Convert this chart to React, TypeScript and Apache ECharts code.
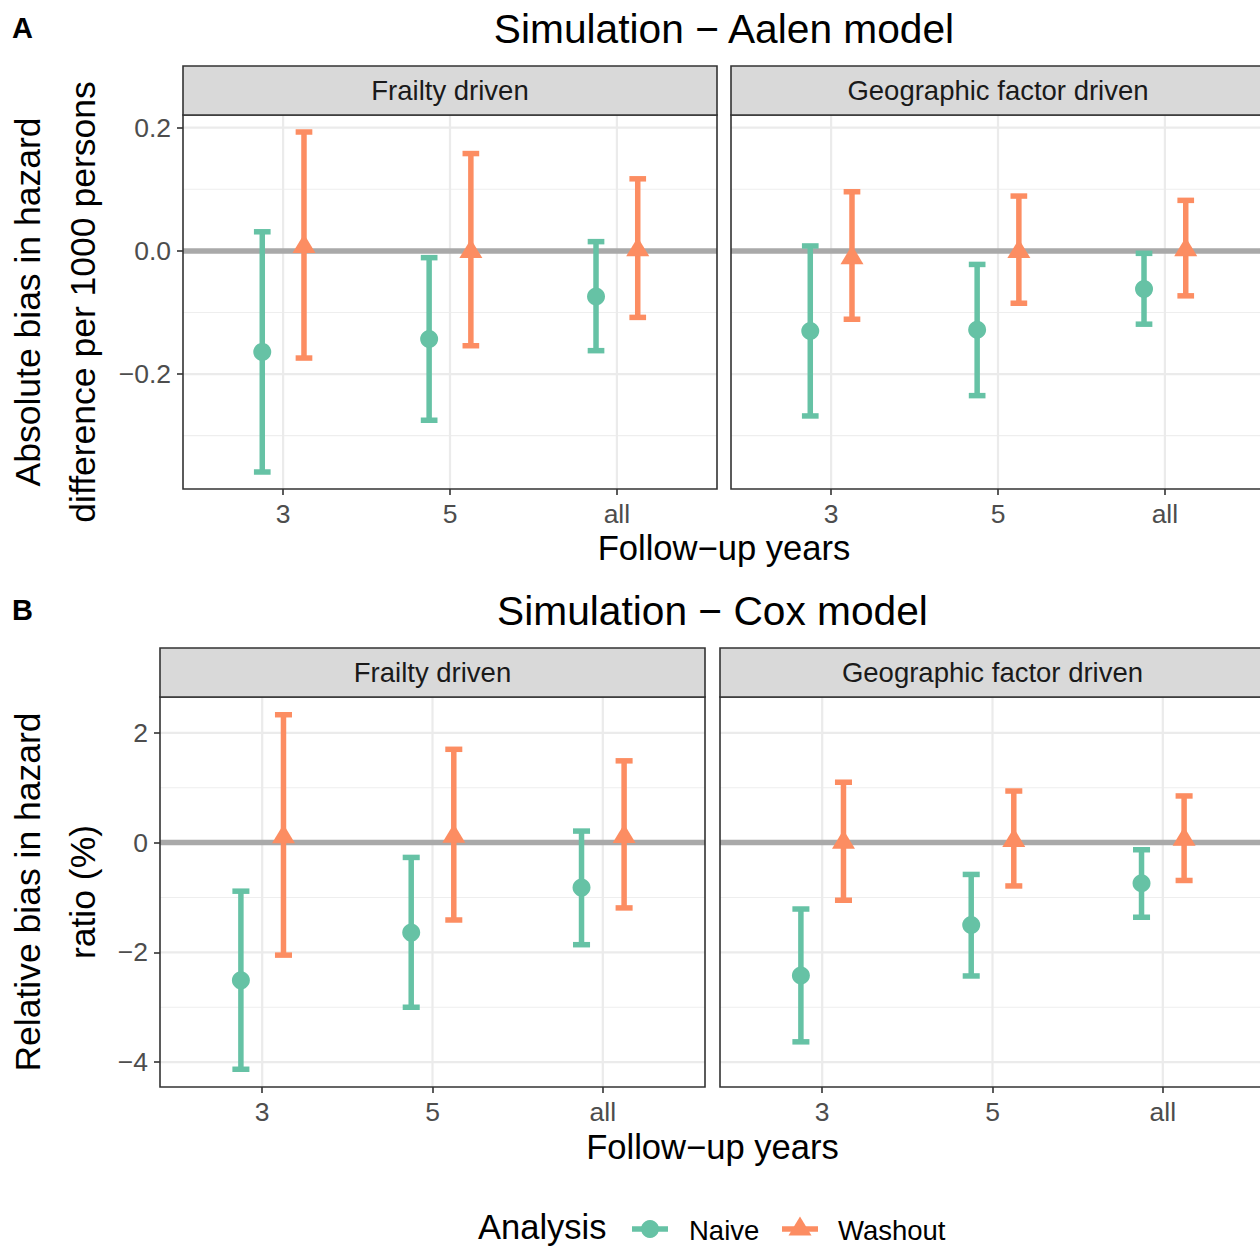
import React, { useEffect, useRef } from 'react';
import * as echarts from 'echarts';

// ---------- data ----------
const categories = ['3', '5', 'all'];
const facetNames = ['Frailty driven', 'Geographic factor driven'];
const analyses = ['Naive', 'Washout'];

// Panel A – Aalen model (absolute bias per 1000 persons)
const aFrailNaiveEst = [-0.164, -0.143, -0.074];
const aFrailNaiveLow = [-0.359, -0.275, -0.162];
const aFrailNaiveHigh = [0.031, -0.011, 0.015];
const aFrailWashEst = [0.007, -0.001, 0.002];
const aFrailWashLow = [-0.174, -0.154, -0.108];
const aFrailWashHigh = [0.193, 0.158, 0.117];

const aGeoNaiveEst = [-0.13, -0.128, -0.062];
const aGeoNaiveLow = [-0.268, -0.235, -0.119];
const aGeoNaiveHigh = [0.008, -0.022, -0.004];
const aGeoWashEst = [-0.011, -0.001, 0.002];
const aGeoWashLow = [-0.111, -0.085, -0.073];
const aGeoWashHigh = [0.096, 0.089, 0.082];

// Panel B – Cox model (relative bias, %)
const bFrailNaiveEst = [-2.51, -1.64, -0.82];
const bFrailNaiveLow = [-4.13, -3.0, -1.86];
const bFrailNaiveHigh = [-0.885, -0.27, 0.21];
const bFrailWashEst = [0.107, 0.115, 0.11];
const bFrailWashLow = [-2.05, -1.41, -1.19];
const bFrailWashHigh = [2.33, 1.7, 1.49];

const bGeoNaiveEst = [-2.42, -1.5, -0.74];
const bGeoNaiveLow = [-3.63, -2.43, -1.36];
const bGeoNaiveHigh = [-1.21, -0.58, -0.13];
const bGeoWashEst = [0.006, 0.04, 0.06];
const bGeoWashLow = [-1.05, -0.79, -0.69];
const bGeoWashHigh = [1.1, 0.94, 0.85];

const aYTicks = [-0.2, 0, 0.2];
const aYMinor = [-0.3, -0.1, 0.1];
const bYTicks = [-4, -2, 0, 2];
const bYMinor = [-3, -1, 1];

// ---------- styles ----------
const FONT = '"Liberation Sans", Arial, Helvetica, sans-serif';
const COLORS = ['#66C2A5', '#FC8D62'];
const DODGE = [-0.125, 0.125];
const CAP_W = 0.1;
const LW = 5.5;

const panels = [
  {
    letter: 'A',
    title: 'Simulation − Aalen model',
    yTitle: ['Absolute bias in hazard', 'difference per 1000 persons'],
    ticks: aYTicks,
    minor: aYMinor,
    digits: 1,
    facets: [
      [
        [aFrailNaiveEst, aFrailNaiveLow, aFrailNaiveHigh],
        [aFrailWashEst, aFrailWashLow, aFrailWashHigh],
      ],
      [
        [aGeoNaiveEst, aGeoNaiveLow, aGeoNaiveHigh],
        [aGeoWashEst, aGeoWashLow, aGeoWashHigh],
      ],
    ],
    layout: { top: 115, height: 374, stripH: 49, lefts: [183, 731], width: 534, titleY: 29, letterY: 28, xTitleY: 548 },
  },
  {
    letter: 'B',
    title: 'Simulation − Cox model',
    yTitle: ['Relative bias in hazard', 'ratio (%)'],
    ticks: bYTicks,
    minor: bYMinor,
    digits: 0,
    facets: [
      [
        [bFrailNaiveEst, bFrailNaiveLow, bFrailNaiveHigh],
        [bFrailWashEst, bFrailWashLow, bFrailWashHigh],
      ],
      [
        [bGeoNaiveEst, bGeoNaiveLow, bGeoNaiveHigh],
        [bGeoWashEst, bGeoWashLow, bGeoWashHigh],
      ],
    ],
    layout: { top: 697, height: 390, stripH: 49, lefts: [160, 720], width: 545, titleY: 611, letterY: 610, xTitleY: 1147 },
  },
];

function fmt(v: number, digits: number) {
  const s = Math.abs(v).toFixed(digits);
  return (v < 0 ? '\u2212' : '') + s;
}

function hLineSeries(gi: number, values: number[], widths: number[], color: string, z: number) {
  return {
    type: 'custom',
    xAxisIndex: gi,
    yAxisIndex: gi,
    z,
    silent: true,
    data: values.map((v, i) => [0, v, widths[i]]),
    encode: { x: 0, y: 1 },
    renderItem: (params: any, api: any) => {
      const cs = params.coordSys;
      const y = api.coord([0, api.value(1)])[1];
      return {
        type: 'line',
        shape: { x1: cs.x, y1: y, x2: cs.x + cs.width, y2: y },
        style: { stroke: color, lineWidth: api.value(2) },
      };
    },
  };
}

function vLineSeries(gi: number, color: string, width: number) {
  return {
    type: 'custom',
    xAxisIndex: gi,
    yAxisIndex: gi,
    z: 1,
    silent: true,
    data: categories.map((_, i) => [i, 0]),
    encode: { x: 0, y: 1 },
    renderItem: (params: any, api: any) => {
      const cs = params.coordSys;
      const x = api.coord([api.value(0), 0])[0];
      return {
        type: 'line',
        shape: { x1: x, y1: cs.y, x2: x, y2: cs.y + cs.height },
        style: { stroke: color, lineWidth: width },
      };
    },
  };
}

function errorSeries(gi: number, ai: number, low: number[], high: number[]) {
  const color = COLORS[ai];
  const offset = DODGE[ai];
  return {
    type: 'custom',
    name: analyses[ai] + ' CI',
    xAxisIndex: gi,
    yAxisIndex: gi,
    z: 3,
    silent: true,
    data: categories.map((_, i) => [i, low[i], high[i]]),
    encode: { x: 0, y: [1, 2] },
    renderItem: (params: any, api: any) => {
      const x = api.value(0) + offset;
      const p1 = api.coord([x, api.value(1)]);
      const p2 = api.coord([x, api.value(2)]);
      const half = api.size([CAP_W, 0])[0] / 2;
      const style = { stroke: color, lineWidth: LW, lineCap: 'butt', fill: null };
      return {
        type: 'group',
        children: [
          { type: 'line', shape: { x1: p1[0], y1: p1[1], x2: p2[0], y2: p2[1] }, style },
          { type: 'line', shape: { x1: p1[0] - half, y1: p1[1], x2: p1[0] + half, y2: p1[1] }, style },
          { type: 'line', shape: { x1: p2[0] - half, y1: p2[1], x2: p2[0] + half, y2: p2[1] }, style },
        ],
      };
    },
  };
}

function pointSeries(gi: number, ai: number, est: number[]) {
  const offset = DODGE[ai];
  const isTri = ai === 1;
  return {
    type: 'scatter',
    name: analyses[ai],
    xAxisIndex: gi,
    yAxisIndex: gi,
    z: 4,
    silent: true,
    symbol: isTri ? 'triangle' : 'circle',
    symbolSize: isTri ? [23, 19] : 18,
    symbolOffset: isTri ? [0, -3] : [0, 0],
    itemStyle: { color: COLORS[ai], opacity: 1 },
    data: est.map((v, i) => [i + offset, v]),
  };
}

function buildOption() {
  const grid: any[] = [];
  const xAxis: any[] = [];
  const yAxis: any[] = [];
  const series: any[] = [];
  const graphic: any[] = [];
  let gi = 0;

  panels.forEach((p) => {
    const L = p.layout;
    // shared y extent with 5% expansion (ggplot default)
    const all: number[] = [];
    p.facets.forEach((f) => f.forEach((a) => { all.push(...a[1], ...a[2]); }));
    const dMin = Math.min(...all);
    const dMax = Math.max(...all);
    const pad = (dMax - dMin) * 0.05;
    const yMin = dMin - pad;
    const yMax = dMax + pad;

    p.facets.forEach((facet, fi) => {
      const left = L.lefts[fi];
      grid.push({
        left,
        top: L.top,
        width: L.width,
        height: L.height,
        show: true,
        borderColor: '#333333',
        borderWidth: 1.6,
        backgroundColor: 'transparent',
        containLabel: false,
        outerBoundsMode: 'none',
        z: 10,
      });
      xAxis.push({
        type: 'value',
        gridIndex: gi,
        min: -0.6,
        max: 2.6,
        axisLine: { show: false, onZero: false },
        splitLine: { show: false },
        axisTick: { show: true, customValues: [0, 1, 2], length: 6, lineStyle: { color: '#333333', width: 1.6 } },
        axisLabel: {
          show: true,
          customValues: [0, 1, 2],
          formatter: (v: number) => categories[Math.round(v)],
          fontSize: 26.5,
          fontFamily: FONT,
          color: '#4D4D4D',
          margin: 11,
        },
      });
      yAxis.push({
        type: 'value',
        gridIndex: gi,
        min: yMin,
        max: yMax,
        axisLine: { show: false, onZero: false },
        splitLine: { show: false },
        axisTick: {
          show: fi === 0,
          customValues: p.ticks,
          length: 6,
          lineStyle: { color: '#333333', width: 1.6 },
        },
        axisLabel: {
          show: fi === 0,
          customValues: p.ticks,
          formatter: (v: number) => fmt(v, p.digits),
          fontSize: 26.5,
          fontFamily: FONT,
          color: '#4D4D4D',
          margin: 12,
        },
      });

      // grid lines
      series.push(hLineSeries(gi, p.minor, p.minor.map(() => 1.1), '#EEEEEE', 1));
      series.push(hLineSeries(gi, p.ticks, p.ticks.map(() => 2.2), '#EBEBEB', 1));
      series.push(vLineSeries(gi, '#EBEBEB', 2.2));
      // zero reference line
      series.push(hLineSeries(gi, [0], [LW], '#A9A9A9', 2));

      facet.forEach((a, ai) => {
        series.push(errorSeries(gi, ai, a[1], a[2]));
      });
      facet.forEach((a, ai) => {
        series.push(pointSeries(gi, ai, a[0]));
      });

      // strip
      graphic.push({
        type: 'rect',
        z: 20,
        shape: { x: left, y: L.top - L.stripH, width: L.width, height: L.stripH },
        style: { fill: '#D9D9D9', stroke: '#333333', lineWidth: 1.6 },
        silent: true,
      });
      graphic.push({
        type: 'text',
        z: 21,
        x: left + L.width / 2,
        y: L.top - L.stripH / 2,
        silent: true,
        style: {
          text: facetNames[fi],
          fontSize: 27.5,
          fontFamily: FONT,
          fill: '#1A1A1A',
          align: 'center',
          verticalAlign: 'middle',
          textAlign: 'center',
          textVerticalAlign: 'middle',
        },
      });
      gi++;
    });

    const centerX = (L.lefts[0] + L.lefts[1] + L.width) / 2;
    const centerY = L.top + L.height / 2;
    // panel letter
    graphic.push({
      type: 'text', x: 12, y: L.letterY, silent: true,
      style: { text: p.letter, fontSize: 29, fontWeight: 'bold', fontFamily: FONT, fill: '#000000', align: 'left', verticalAlign: 'middle', textAlign: 'left', textVerticalAlign: 'middle' },
    });
    // panel title
    graphic.push({
      type: 'text', x: centerX, y: L.titleY, silent: true,
      style: { text: p.title, fontSize: 40.7, fontFamily: FONT, fill: '#000000', align: 'center', verticalAlign: 'middle', textAlign: 'center', textVerticalAlign: 'middle' },
    });
    // x-axis title
    graphic.push({
      type: 'text', x: centerX, y: L.xTitleY, silent: true,
      style: { text: 'Follow\u2212up years', fontSize: 34.6, fontFamily: FONT, fill: '#000000', align: 'center', verticalAlign: 'middle', textAlign: 'center', textVerticalAlign: 'middle' },
    });
    // y-axis title (two lines)
    const yxs = [28, 83];
    p.yTitle.forEach((t, li) => {
      graphic.push({
        type: 'text', x: yxs[li], y: centerY, rotation: Math.PI / 2, silent: true,
        style: { text: t, fontSize: 35.5, fontFamily: FONT, fill: '#000000', align: 'center', verticalAlign: 'middle', textAlign: 'center', textVerticalAlign: 'middle' },
      });
    });
  });

  // legend
  const ly = 1229;
  const txt = (text: string, x: number, size: number, y: number) => ({
    type: 'text', x, y, silent: true,
    style: { text, fontSize: size, fontFamily: FONT, fill: '#000000', align: 'left', verticalAlign: 'middle', textAlign: 'left', textVerticalAlign: 'middle' },
  });
  graphic.push(txt('Analysis', 478, 34.5, 1227));
  // Naive key
  graphic.push({ type: 'line', silent: true, shape: { x1: 632, y1: ly, x2: 668, y2: ly }, style: { stroke: COLORS[0], lineWidth: LW } });
  graphic.push({ type: 'circle', silent: true, shape: { cx: 650, cy: ly, r: 9 }, style: { fill: COLORS[0] } });
  graphic.push(txt(analyses[0], 689, 27.5, 1230));
  // Washout key
  graphic.push({ type: 'line', silent: true, shape: { x1: 782, y1: ly, x2: 818, y2: ly }, style: { stroke: COLORS[1], lineWidth: LW } });
  graphic.push({
    type: 'polygon', silent: true,
    shape: { points: [[800, ly - 12.5], [811.5, ly + 6.5], [788.5, ly + 6.5]] },
    style: { fill: COLORS[1] },
  });
  graphic.push(txt(analyses[1], 838, 27.5, 1230));

  return {
    animation: false,
    backgroundColor: '#ffffff',
    textStyle: { fontFamily: FONT },
    grid,
    xAxis,
    yAxis,
    series,
    graphic,
  };
}

export default function App() {
  const ref = useRef<HTMLDivElement>(null);
  useEffect(() => {
    if (!ref.current) return;
    const chart = echarts.init(ref.current, null, { renderer: 'svg' });
    chart.setOption(buildOption() as any);
    return () => {
      chart.dispose();
    };
  }, []);
  return (
    <div
      style={{
        position: 'absolute',
        left: 0,
        top: 0,
        width: 1260,
        height: 1247,
        overflow: 'hidden',
        background: '#ffffff',
      }}
    >
      <div ref={ref} style={{ width: 1270, height: 1247 }} />
    </div>
  );
}
